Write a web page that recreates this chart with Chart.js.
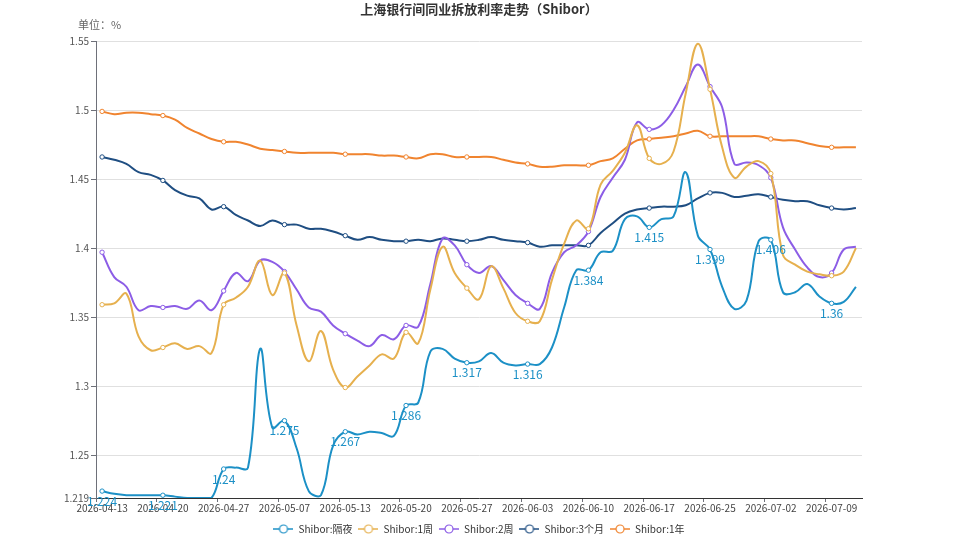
<!DOCTYPE html>
<html>
<head>
<meta charset="utf-8">
<script src="https://cdn.jsdelivr.net/npm/chart.js@4.4.1/dist/chart.umd.min.js"></script>
<style>
  body { margin: 0; background: #fff; }
  canvas { display: block; }
</style>
</head>
<body>
<canvas id="shibor" width="958" height="539"></canvas>
<script>
const dates = [
  '2026-04-13','2026-04-14','2026-04-15','2026-04-16','2026-04-17',
  '2026-04-20','2026-04-21','2026-04-22','2026-04-23','2026-04-24',
  '2026-04-27','2026-04-28','2026-04-29','2026-04-30','2026-05-06',
  '2026-05-07','2026-05-08','2026-05-09','2026-05-11','2026-05-12',
  '2026-05-13','2026-05-14','2026-05-15','2026-05-18','2026-05-19',
  '2026-05-20','2026-05-21','2026-05-22','2026-05-25','2026-05-26',
  '2026-05-27','2026-05-28','2026-05-29','2026-06-01','2026-06-02',
  '2026-06-03','2026-06-04','2026-06-05','2026-06-08','2026-06-09',
  '2026-06-10','2026-06-11','2026-06-12','2026-06-15','2026-06-16',
  '2026-06-17','2026-06-18','2026-06-22','2026-06-23','2026-06-24',
  '2026-06-25','2026-06-26','2026-06-29','2026-06-30','2026-07-01',
  '2026-07-02','2026-07-03','2026-07-06','2026-07-07','2026-07-08',
  '2026-07-09','2026-07-10','2026-07-13'
];

// 隔夜
const overnight = [
  1.224, 1.222, 1.221, 1.221, 1.221, 1.221, 1.220, 1.219, 1.219, 1.219,
  1.24, 1.241, 1.241, 1.327, 1.270, 1.275, 1.255, 1.224, 1.221, 1.257,
  1.267, 1.265, 1.267, 1.266, 1.264, 1.286, 1.288, 1.325, 1.327, 1.320,
  1.317, 1.318, 1.324, 1.317, 1.315, 1.316, 1.316, 1.328, 1.357, 1.384,
  1.384, 1.397, 1.398, 1.421, 1.423, 1.415, 1.421, 1.423, 1.455, 1.409,
  1.399, 1.372, 1.356, 1.362, 1.405, 1.406, 1.368, 1.368, 1.374, 1.365,
  1.36, 1.361, 1.372
];
// 1周
const week1 = [
  1.359, 1.360, 1.367, 1.336, 1.326, 1.328, 1.331, 1.327, 1.329, 1.324,
  1.359, 1.364, 1.372, 1.391, 1.366, 1.382, 1.344, 1.318, 1.340, 1.312,
  1.299, 1.307, 1.315, 1.323, 1.320, 1.339, 1.331, 1.370, 1.401, 1.382,
  1.371, 1.363, 1.387, 1.371, 1.353, 1.347, 1.347, 1.377, 1.403, 1.420,
  1.414, 1.446, 1.456, 1.469, 1.489, 1.465, 1.461, 1.470, 1.512, 1.548,
  1.515, 1.473, 1.451, 1.459, 1.463, 1.454, 1.395, 1.388, 1.383, 1.381,
  1.380, 1.383, 1.400
];
// 2周
const week2 = [
  1.397, 1.379, 1.372, 1.355, 1.358, 1.357, 1.358, 1.356, 1.362, 1.355,
  1.369, 1.382, 1.376, 1.391, 1.390, 1.383, 1.370, 1.357, 1.354, 1.344,
  1.338, 1.333, 1.329, 1.337, 1.334, 1.344, 1.343, 1.374, 1.407, 1.402,
  1.388, 1.382, 1.387, 1.377, 1.366, 1.360, 1.356, 1.382, 1.397, 1.402,
  1.412, 1.437, 1.451, 1.464, 1.491, 1.486, 1.489, 1.500, 1.517, 1.533,
  1.517, 1.502, 1.461, 1.462, 1.460, 1.451, 1.415, 1.399, 1.386, 1.379,
  1.382, 1.399, 1.401
];
// 3个月
const month3 = [
  1.466, 1.464, 1.461, 1.455, 1.453, 1.449, 1.442, 1.438, 1.436, 1.428,
  1.430, 1.424, 1.420, 1.416, 1.420, 1.417, 1.417, 1.414, 1.414, 1.412,
  1.409, 1.406, 1.408, 1.406, 1.405, 1.405, 1.406, 1.405, 1.407, 1.406,
  1.405, 1.406, 1.408, 1.406, 1.405, 1.404, 1.401, 1.402, 1.402, 1.402,
  1.402, 1.411, 1.418, 1.425, 1.428, 1.429, 1.430, 1.430, 1.431, 1.436,
  1.440, 1.440, 1.437, 1.438, 1.439, 1.437, 1.435, 1.434, 1.434, 1.431,
  1.429, 1.428, 1.429
];
// 1年
const year1 = [
  1.499, 1.497, 1.498, 1.498, 1.497, 1.496, 1.493, 1.487, 1.483, 1.479,
  1.477, 1.477, 1.475, 1.472, 1.471, 1.470, 1.469, 1.469, 1.469, 1.469,
  1.468, 1.468, 1.468, 1.467, 1.467, 1.466, 1.465, 1.468, 1.468, 1.466,
  1.466, 1.466, 1.466, 1.464, 1.462, 1.461, 1.459, 1.459, 1.460, 1.460,
  1.460, 1.463, 1.465, 1.472, 1.478, 1.479, 1.480, 1.481, 1.483, 1.485,
  1.481, 1.481, 1.481, 1.481, 1.481, 1.479, 1.478, 1.478, 1.476, 1.474,
  1.473, 1.473, 1.473
];

const seriesNames = ['Shibor:隔夜', 'Shibor:1周', 'Shibor:2周', 'Shibor:3个月', 'Shibor:1年'];
const yTicks = [1.219, 1.25, 1.3, 1.35, 1.4, 1.45, 1.5, 1.55];
const colors = ['#1c90c6', '#e6b04e', '#8c5de6', '#1f4e82', '#f0842f'];

const FONT = '"Noto Sans CJK SC", "Noto Sans", sans-serif';
const STEP = 5; // markers / labels every 5th day

// legend icon: short line with hollow circle
function legendIcon(color) {
  const c = document.createElement('canvas');
  c.width = 20;
  c.height = 12;
  const g = c.getContext('2d');
  g.strokeStyle = color;
  g.lineWidth = 1.5;
  g.beginPath();
  g.moveTo(0, 6);
  g.lineTo(20, 6);
  g.stroke();
  g.beginPath();
  g.arc(10, 6, 4, 0, Math.PI * 2);
  g.fillStyle = '#fff';
  g.fill();
  g.lineWidth = 1.2;
  g.stroke();
  return c;
}
const icons = colors.map(legendIcon);

// title, unit text and value labels of the overnight series
const extras = {
  id: 'extras',
  afterDatasetsDraw(chart) {
    const c = chart.ctx;
    c.save();
    const meta = chart.getDatasetMeta(0);
    c.font = '12px ' + FONT;
    c.fillStyle = colors[0];
    c.textAlign = 'center';
    c.textBaseline = 'top';
    meta.data.forEach((pt, i) => {
      if (i % STEP === 0) c.fillText(String(overnight[i]), pt.x, pt.y + 4);
    });
    c.restore();
  },
  afterDraw(chart) {
    const c = chart.ctx;
    c.save();
    c.fillStyle = '#333';
    c.font = 'bold 13px ' + FONT;
    c.textAlign = 'center';
    c.textBaseline = 'middle';
    c.fillText('上海银行间同业拆放利率走势（Shibor）', 479, 9);
    c.fillStyle = '#666';
    c.font = '11px ' + FONT;
    c.textAlign = 'left';
    c.fillText('单位：%', 78, 25);
    c.restore();
  }
};

const seriesData = [overnight, week1, week2, month3, year1];

new Chart(document.getElementById('shibor'), {
  type: 'line',
  data: {
    labels: dates,
    datasets: seriesData.map((d, k) => ({
      label: seriesNames[k],
      data: d,
      borderColor: colors[k],
      backgroundColor: colors[k],
      borderWidth: 2,
      tension: 0.4,
      pointRadius: ctx => ctx.dataIndex % STEP === 0 ? 2.2 : 0,
      pointBackgroundColor: '#fff',
      pointBorderColor: colors[k],
      pointBorderWidth: 1,
      pointHoverRadius: 0
    }))
  },
  options: {
    responsive: false,
    animation: false,
    layout: { padding: { left: 0, right: 0, top: 41, bottom: -5 } },
    scales: {
      x: {
        offset: true,
        grid: {
          offset: true,
          drawOnChartArea: false,
          drawTicks: true,
          tickLength: 4,
          color: ctx => ctx.index % STEP === 0 ? '#6e7079' : 'rgba(0,0,0,0)'
        },
        border: { display: true, color: '#333', width: 1 },
        ticks: {
          autoSkip: false,
          maxRotation: 0,
          padding: 0,
          color: '#444',
          font: { size: 10, family: FONT },
          callback: (v, i) => i % STEP === 0 ? dates[i] : ''
        },
        afterFit: s => { s.height = 20; }
      },
      y: {
        min: 1.219,
        max: 1.55,
        afterBuildTicks: s => { s.ticks = yTicks.map(v => ({ value: v })); },
        grid: { color: '#e0e0e0', tickColor: '#6e7079', tickLength: 5 },
        border: { display: true, color: '#6e7079', width: 1 },
        ticks: {
          padding: 2,
          color: '#555',
          font: { size: 10, family: FONT },
          callback: v => String(v)
        },
        afterFit: s => { s.width = 96; }
      },
      // empty right margin so the legend stays centred on the page
      pad: {
        position: 'right',
        min: 1.219,
        max: 1.55,
        grid: { display: false },
        border: { display: false },
        ticks: { display: false },
        afterFit: s => { s.width = 96; }
      }
    },
    plugins: {
      legend: {
        position: 'bottom',
        labels: {
          usePointStyle: true,
          pointStyleWidth: 20,
          padding: 6,
          color: '#333',
          font: { size: 10, family: FONT },
          generateLabels(chart) {
            const items = Chart.defaults.plugins.legend.labels.generateLabels(chart);
            items.forEach((it, i) => { it.pointStyle = icons[i]; });
            return items;
          }
        }
      },
      tooltip: { enabled: false }
    }
  },
  plugins: [extras]
});
</script>
</body>
</html>
